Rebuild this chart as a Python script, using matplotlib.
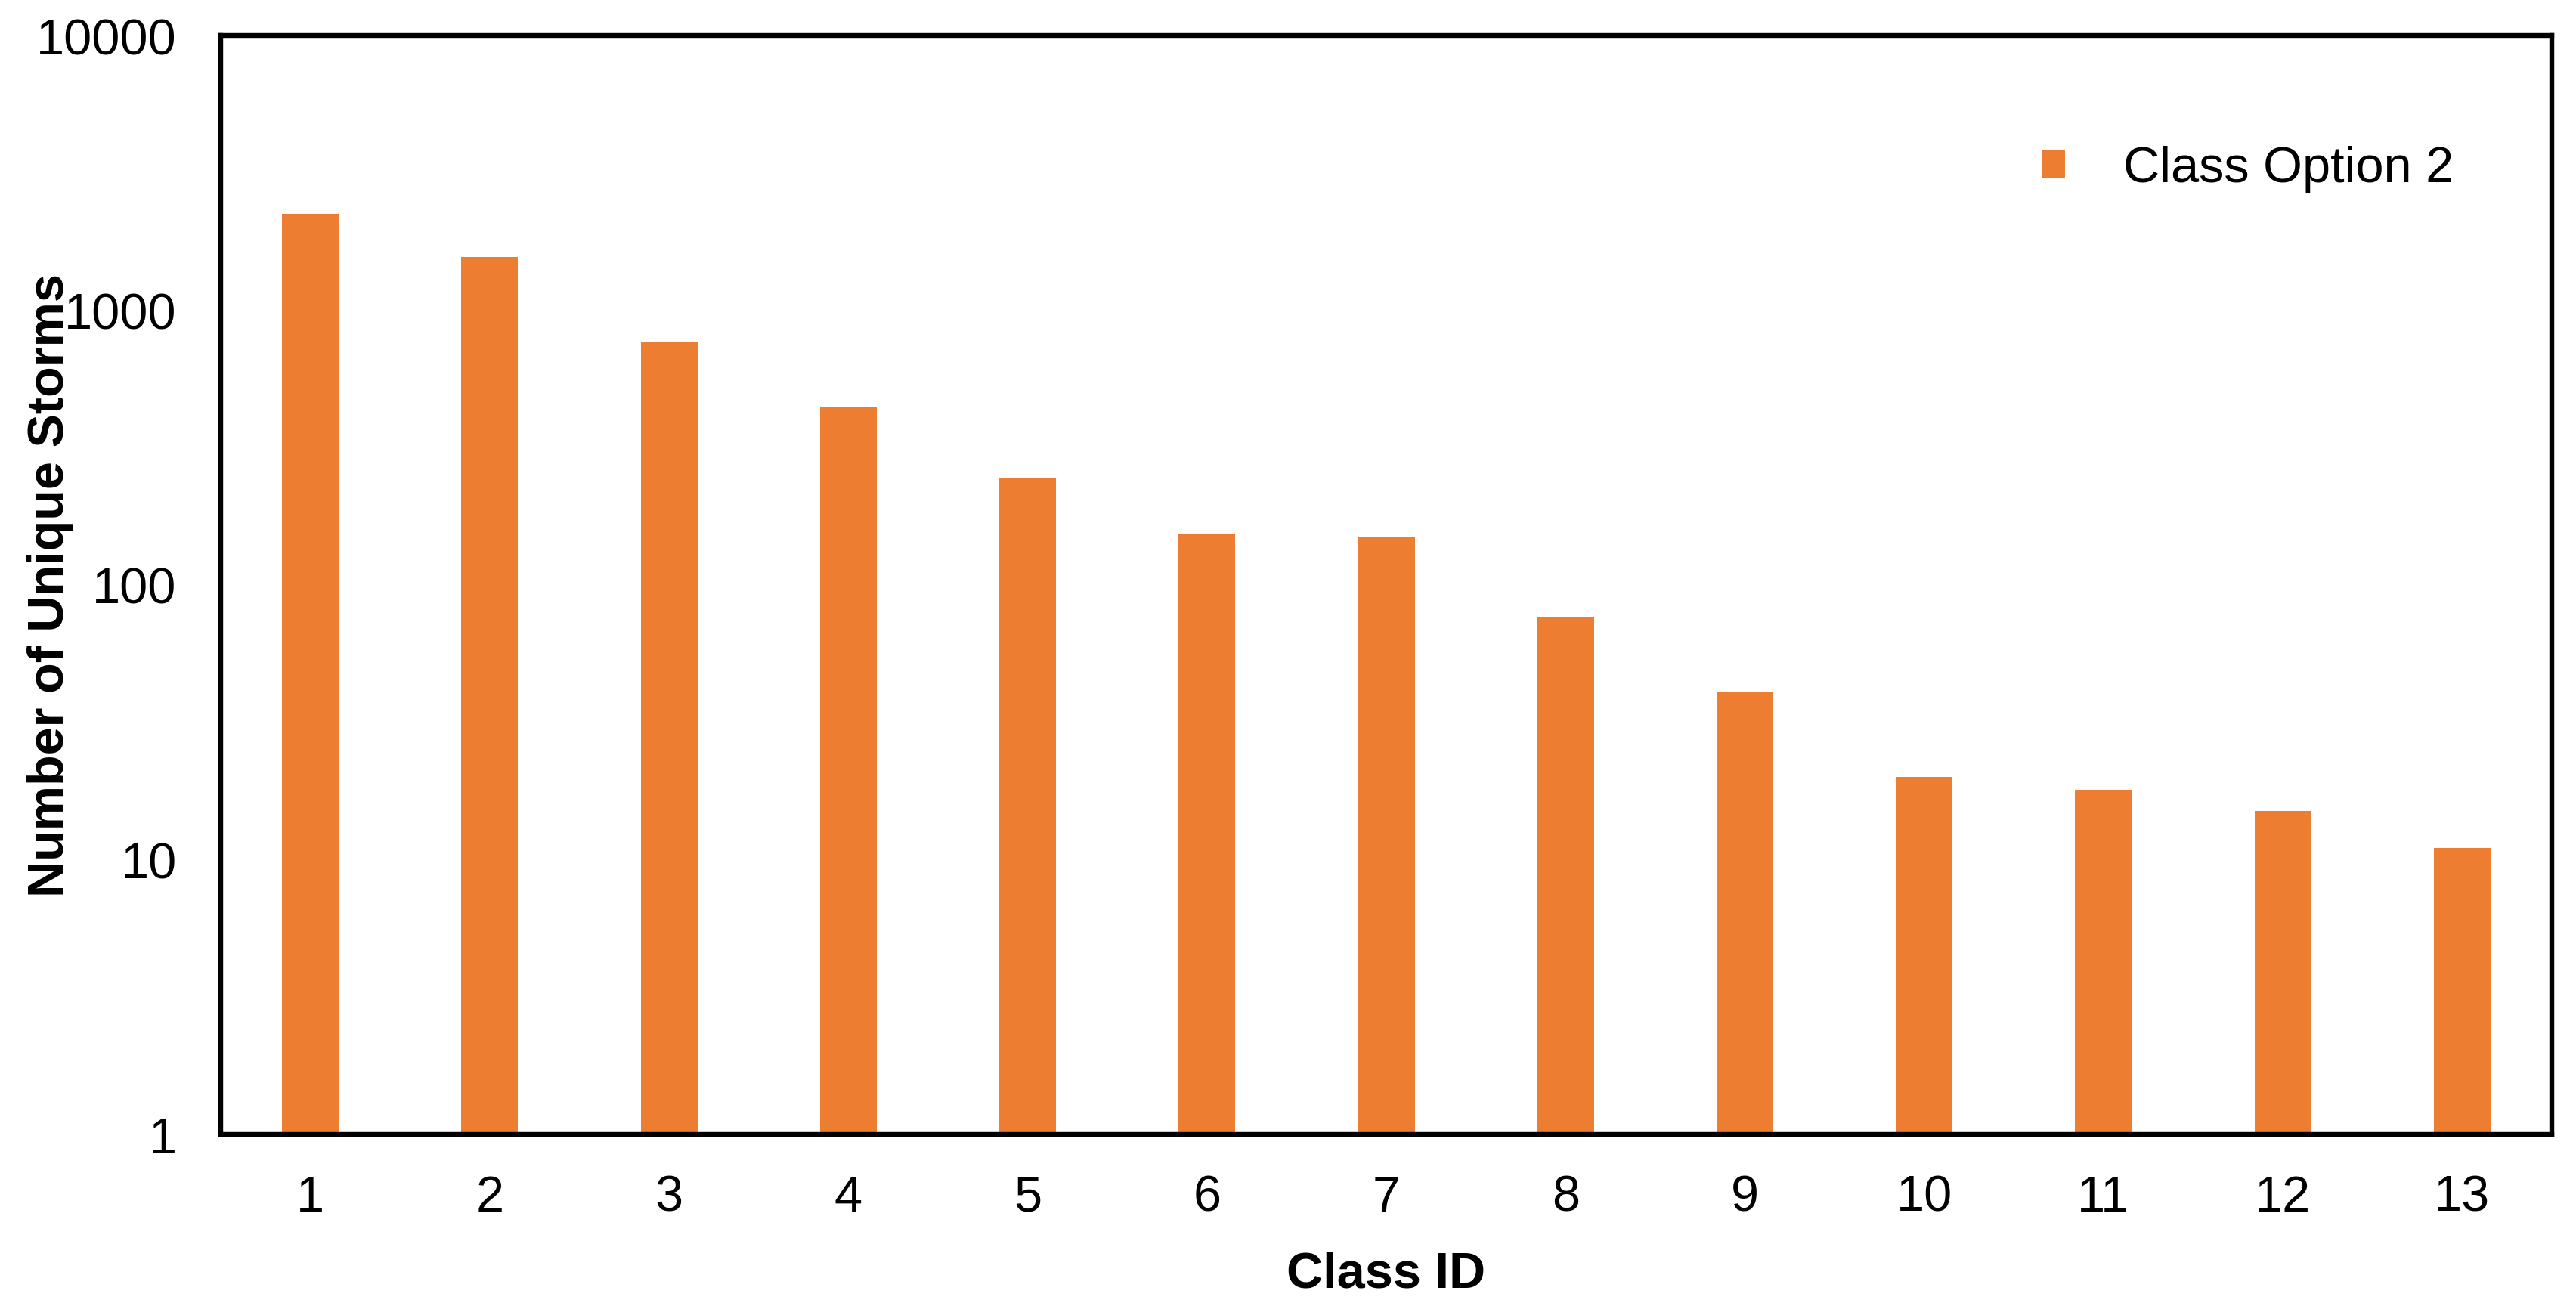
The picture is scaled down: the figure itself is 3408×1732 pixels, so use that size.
import matplotlib
matplotlib.use("Agg")
import matplotlib.pyplot as plt

class_ids = ["1", "2", "3", "4", "5", "6", "7", "8", "9", "10", "11", "12", "13"]
storm_counts = [2238, 1560, 762, 442, 244, 154, 149, 76, 41, 20, 18, 15, 11]
series_name = "Class Option 2"
y_ticks = [1, 10, 100, 1000, 10000]

plt.rcParams["font.family"] = ["Liberation Sans", "DejaVu Sans"]
ORANGE = "#ED7D31"

fig = plt.figure(figsize=(17.04, 8.665), dpi=200)
ax = fig.add_axes([0.0857, 0.1333, 0.9049, 0.839])

x = list(range(1, len(class_ids) + 1))
ax.bar(x, storm_counts, width=0.317, color=ORANGE, label=series_name, zorder=2)

ax.set_yscale("log")
ax.set_ylim(1, 10000)
ax.set_xlim(0.5, len(class_ids) + 0.5)
ax.set_yticks(y_ticks)
ax.set_yticklabels([str(t) for t in y_ticks])
ax.yaxis.set_minor_locator(matplotlib.ticker.NullLocator())
ax.set_xticks(x)
ax.set_xticklabels(class_ids)
ax.tick_params(axis="both", length=0, labelsize=24)
ax.tick_params(axis="y", pad=21)
ax.tick_params(axis="x", pad=19)

for s in ax.spines.values():
    s.set_linewidth(2.3)
    s.set_color("black")

ax.set_xlabel("Class ID", fontsize=24, fontweight="bold", labelpad=14)
ax.set_ylabel("Number of Unique Storms", fontsize=24, fontweight="bold")
ax.yaxis.set_label_coords(-0.063, 0.5)

ax.legend(loc="center left", bbox_to_anchor=(0.781, 0.879), frameon=False,
          fontsize=24, handlelength=0.47, handleheight=0.47, handletextpad=1.15,
          borderpad=0, borderaxespad=0)

fig.savefig("out.png", dpi=200)
